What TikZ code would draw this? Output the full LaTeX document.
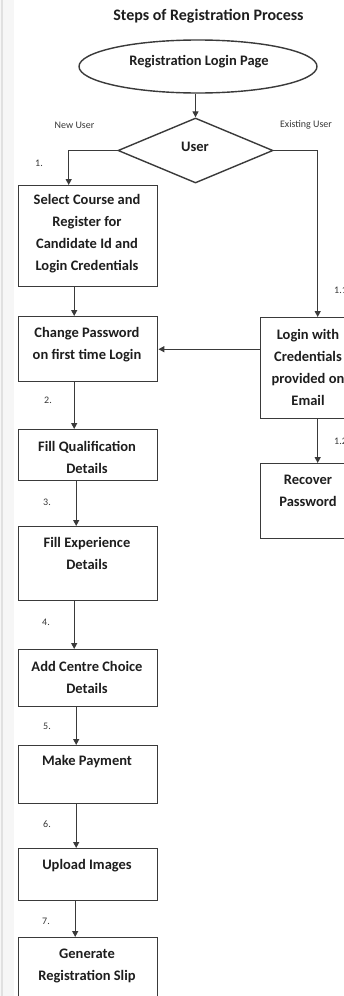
\documentclass[tikz,border=0pt]{standalone}
\usepackage{fontspec}
\setmainfont{Carlito}
\usetikzlibrary{shapes.geometric,arrows.meta}
\definecolor{ln}{HTML}{3A3A3A}
\definecolor{tx}{HTML}{1E1E1E}
\definecolor{lb}{HTML}{383838}
\definecolor{strip}{HTML}{F6F6F6}
\definecolor{stripline}{HTML}{E0E0E0}
\begin{document}
\begin{tikzpicture}[x=1pt,y=-1pt,
  boxnode/.style={draw=ln, line width=1.4pt, rectangle, inner sep=0pt, anchor=north west, minimum width=139pt},
  txt/.style={font=\fontsize{14.5}{22}\selectfont\bfseries, text=tx, align=center, inner sep=0pt},
  lbl/.style={font=\fontsize{10}{12}\selectfont, text=lb, inner sep=0pt},
  conn/.style={draw=ln, line width=1.3pt, -{Triangle[length=6pt,width=6pt]}}]
\useasboundingbox (0,0) rectangle (344,996);
\clip (0,0) rectangle (344,996);
\fill[white] (0,0) rectangle (344,996);
\fill[strip] (0,0) rectangle (14,996);
\draw[stripline, line width=1.5pt] (2,0) -- (2,996);

% title
\node[font=\fontsize{16}{18}\selectfont\bfseries, text=tx, inner sep=0pt] (title) at (208.5,16) {Steps of Registration Process};

% start ellipse and decision
\node[draw=ln, line width=1.4pt, ellipse, minimum width=238pt, minimum height=53pt, inner sep=0pt] (e) at (198,66.5) {};
\node[txt] (et) at (199,62) {Registration Login Page};
\node[draw=ln, line width=1.4pt, diamond, minimum width=155pt, minimum height=65pt, inner sep=0pt] (d) at (195.5,150.5) {};
\node[txt] (dt) at (195,147) {User};

% left column boxes
\node[boxnode, minimum height=101pt] (b1) at (18,185) {};
\node[boxnode, minimum height=65pt] (b2) at (18,316) {};
\node[boxnode, minimum height=51pt] (b3) at (18,429) {};
\node[boxnode, minimum height=74pt] (b4) at (18,526) {};
\node[boxnode, minimum height=57pt] (b5) at (18,649) {};
\node[boxnode, minimum height=58pt] (b6) at (18,745) {};
\node[boxnode, minimum height=52pt] (b7) at (18,848) {};
\node[boxnode, minimum height=80pt] (b8) at (18,937) {};

% right column boxes
\node[boxnode, minimum width=94pt, minimum height=101pt] (lg) at (260,317) {};
\node[boxnode, minimum width=94pt, minimum height=75pt] (rc) at (260,463) {};

% texts
\node[txt] (t1) at (87,234) {Select Course and\\Register for\\Candidate Id and\\Login Credentials};
\node[txt] (t2) at (87,345) {Change Password\\on first time Login};
\node[txt] (t3) at (87,457) {Fill Qualification\\Details};
\node[txt] (t4) at (87,553) {Fill Experience\\Details};
\node[txt] (t5) at (87,677.5) {Add Centre Choice\\Details};
\node[txt] (t6) at (87,762) {Make Payment};
\node[txt] (t7) at (87,866) {Upload Images};
\node[txt] (t8) at (87,965.5) {Generate\\Registration Slip};
\node[txt] (tl) at (308,367.5) {Login with\\Credentials\\provided on\\Email};
\node[txt] (tr) at (308,490.5) {Recover\\Password};

% small labels
\node[lbl] (nu) at (74.5,125) {New User};
\node[lbl] (eu) at (306,125) {Existing User};
\node[lbl] (n1) at (39,163) {1.};
\node[lbl] (n2) at (48,400) {2.};
\node[lbl] (n3) at (47,502) {3.};
\node[lbl] (n4) at (46,622) {4.};
\node[lbl] (n5) at (47,726) {5.};
\node[lbl] (n6) at (47,824) {6.};
\node[lbl] (n7) at (46,921) {7.};
\node[lbl, anchor=west] (n11) at (334,290) {1.1};
\node[lbl, anchor=west] (n12) at (334,441) {1.2};

% connectors
\draw[conn] (e.south -| d.north) -- (d.north);
\draw[conn] (d.west) -| ([xshift=-19.5pt]b1.north);
\draw[conn] (d.east) -| ([xshift=10pt]lg.north);
\draw[conn] ([xshift=-14pt]b1.south) -- ([xshift=-14pt]b2.north);
\draw[conn] (lg.west |- b2.east) -- (b2.east);
\draw[conn] ([xshift=-14pt]b2.south) -- ([xshift=-14pt]b3.north);
\draw[conn] ([xshift=-12pt]b3.south) -- ([xshift=-12pt]b4.north);
\draw[conn] ([xshift=-14pt]b4.south) -- ([xshift=-14pt]b5.north);
\draw[conn] ([xshift=-12pt]b5.south) -- ([xshift=-12pt]b6.north);
\draw[conn] ([xshift=-12pt]b6.south) -- ([xshift=-12pt]b7.north);
\draw[conn] ([xshift=-13pt]b7.south) -- ([xshift=-13pt]b8.north);
\draw[conn] ([xshift=10pt]lg.south) -- ([xshift=10pt]rc.north);
\end{tikzpicture}
\end{document}
